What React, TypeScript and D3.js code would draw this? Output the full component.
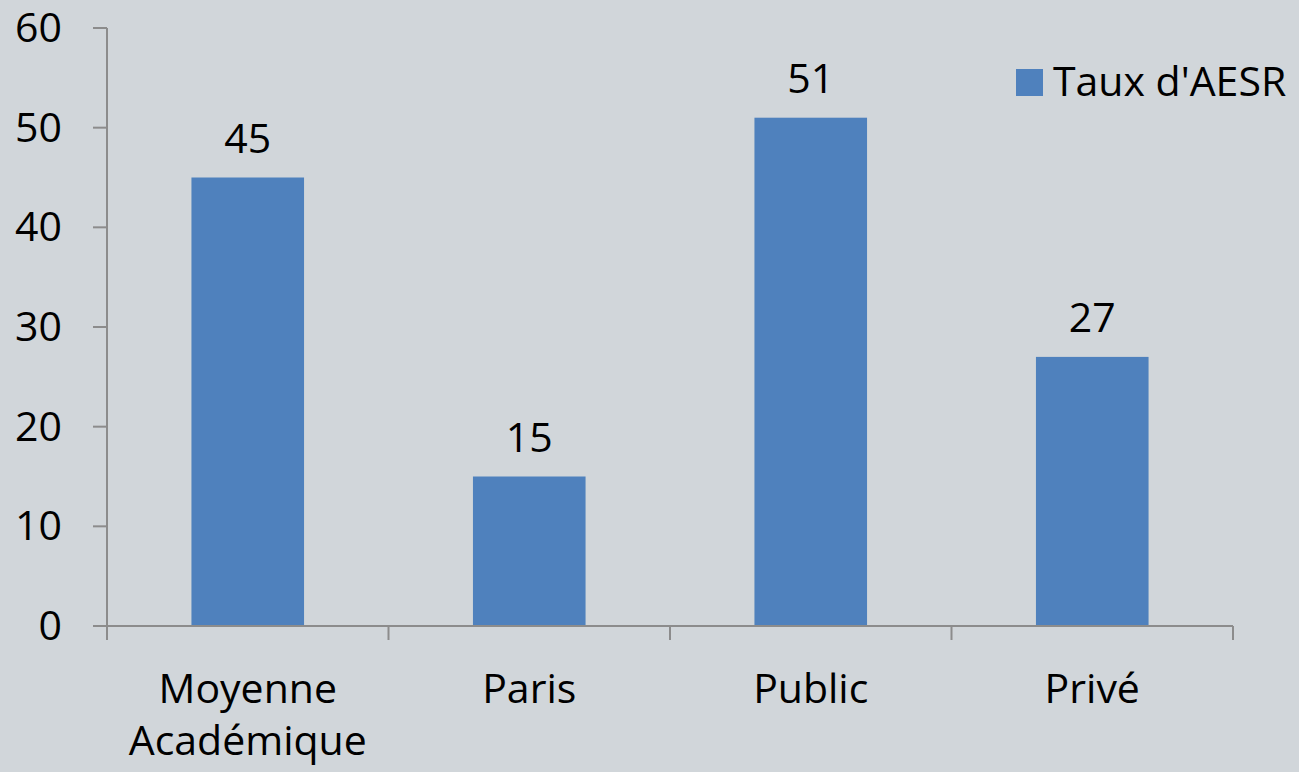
import React from "react";
import * as d3 from "d3";

const WIDTH = 1299;
const HEIGHT = 772;
const MARGIN = { top: 28, right: 66, bottom: 146, left: 107 };

const categories = ["Moyenne Académique", "Paris", "Public", "Privé"];
const values = [45, 15, 51, 27];
const yTicks = [0, 10, 20, 30, 40, 50, 60];
const seriesName = "Taux d'AESR";

const FONT = "'Open Sans', Lato, sans-serif";
const FONT_SIZE = 41;
const BAR_COLOR = "#4f81bd";
const AXIS_COLOR = "#8c8c8c";

export default function App() {
  const boundsWidth = WIDTH - MARGIN.left - MARGIN.right;
  const boundsHeight = HEIGHT - MARGIN.top - MARGIN.bottom;

  const xScale = d3
    .scaleBand<string>()
    .domain(categories)
    .range([0, boundsWidth])
    .paddingInner(0.6)
    .paddingOuter(0.3);

  const yScale = d3.scaleLinear().domain([0, 60]).range([boundsHeight, 0]);

  const step = xScale.step();
  // category boundaries for the x ticks
  const xTickPos = d3.range(categories.length + 1).map((i) => i * step);

  return (
    <svg
      width={WIDTH}
      height={HEIGHT}
      style={{ position: "absolute", left: 0, top: 0, background: "#d1d6da" }}
      fontFamily={FONT}
    >
      <rect width={WIDTH} height={HEIGHT} fill="#d1d6da" />
      <g transform={`translate(${MARGIN.left},${MARGIN.top})`}>
        {/* bars */}
        {categories.map((c, i) => (
          <rect
            key={c}
            x={xScale(c)}
            y={yScale(values[i])}
            width={xScale.bandwidth()}
            height={boundsHeight - yScale(values[i])}
            fill={BAR_COLOR}
          />
        ))}
        {/* value labels */}
        {categories.map((c, i) => (
          <text
            key={c}
            x={(xScale(c) as number) + xScale.bandwidth() / 2}
            y={yScale(values[i]) - 25}
            textAnchor="middle"
            fontSize={FONT_SIZE}
            fill="#000"
          >
            {values[i]}
          </text>
        ))}
        {/* y axis */}
        <line x1={0} x2={0} y1={0} y2={boundsHeight} stroke={AXIS_COLOR} strokeWidth={2} />
        {yTicks.map((t) => (
          <g key={t} transform={`translate(0,${yScale(t)})`}>
            <line x1={-14} x2={0} stroke={AXIS_COLOR} strokeWidth={2} />
            <text x={-45} y={14} textAnchor="end" fontSize={FONT_SIZE} fill="#000">
              {t}
            </text>
          </g>
        ))}
        {/* x axis */}
        <line x1={0} x2={boundsWidth} y1={boundsHeight} y2={boundsHeight} stroke={AXIS_COLOR} strokeWidth={2} />
        {xTickPos.map((p, i) => (
          <line
            key={i}
            x1={p}
            x2={p}
            y1={boundsHeight}
            y2={boundsHeight + 14}
            stroke={AXIS_COLOR}
            strokeWidth={2}
          />
        ))}
        {categories.map((c) => {
          const words = c.split(" ");
          const cx = (xScale(c) as number) + xScale.bandwidth() / 2;
          return (
            <text key={c} x={cx} y={boundsHeight + 77} textAnchor="middle" fontSize={FONT_SIZE} fill="#000">
              {words.map((w, j) => (
                <tspan key={j} x={cx} dy={j === 0 ? 0 : 52}>
                  {w}
                </tspan>
              ))}
            </text>
          );
        })}
        {/* legend */}
        <g transform={`translate(909,41)`}>
          <rect width={27} height={27} fill={BAR_COLOR} />
          <text x={37} y={27} fontSize={FONT_SIZE} fill="#000">
            {seriesName}
          </text>
        </g>
      </g>
    </svg>
  );
}
